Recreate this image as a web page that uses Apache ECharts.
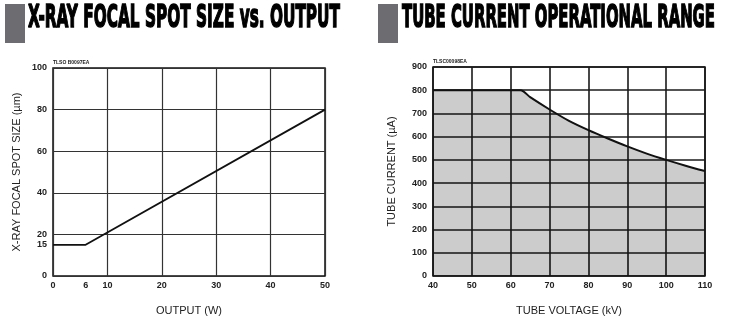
<!DOCTYPE html>
<html>
<head>
<meta charset="utf-8">
<script src="https://cdn.jsdelivr.net/npm/echarts@6/dist/echarts.min.js"></script>
<style>
html,body{margin:0;padding:0;background:#fff;}
#main{width:730px;height:325px;}
</style>
</head>
<body>
<div id="main"></div>
<script>
// left chart: focal spot size vs output
var spotOutput = [0, 6, 50];
var spotSize = [15, 15, 80];
var spotXTicks = [0, 6, 10, 20, 30, 40, 50];
var spotYTicks = [0, 15, 20, 40, 60, 80, 100];

// right chart: tube current operating range
var tubeVoltage = [40, 62.5, 65, 70, 75, 80, 85, 90, 95, 100, 105, 110];
var tubeCurrent = [800, 800, 770, 717, 668, 628, 592, 558, 527, 500, 475, 452];

var titleLeft = 'X-RAY FOCAL SPOT SIZE vs. OUTPUT';
var titleRight = 'TUBE CURRENT OPERATIONAL RANGE';

var chart = echarts.init(document.getElementById('main'));

var titleFont = 'bold 32px "DejaVu Sans Condensed", "Liberation Sans Narrow", "Liberation Sans", sans-serif';
var ctx = document.createElement('canvas').getContext('2d');
ctx.font = titleFont;
function fitScale(txt, w) {
    return w / ctx.measureText(txt).width;
}

var tickLabel = {color: '#222', fontSize: 9, fontWeight: 'bold', fontFamily: 'Liberation Sans'};
var nameStyle = {color: '#222', fontSize: 11, fontFamily: 'Liberation Sans'};

var option = {
    animation: false,
    backgroundColor: '#fff',
    grid: [
        {left: 53, top: 68, width: 272, height: 208, show: true, borderColor: '#111', borderWidth: 1.5, backgroundColor: 'transparent'},
        {left: 433, top: 67, width: 272, height: 209, show: true, borderColor: '#111', borderWidth: 1.5, backgroundColor: 'transparent'}
    ],
    xAxis: [{
        gridIndex: 0,
        type: 'value', min: 0, max: 50, interval: 10,
        name: 'OUTPUT (W)', nameLocation: 'middle', nameGap: 29, nameTextStyle: nameStyle,
        axisLine: {show: false},
        axisTick: {show: false},
        axisLabel: Object.assign({customValues: spotXTicks, margin: 5}, tickLabel),
        splitLine: {show: true, lineStyle: {color: '#333', width: 1.2}}
    }, {
        gridIndex: 1,
        type: 'value', min: 40, max: 110, interval: 10,
        name: 'TUBE VOLTAGE (kV)', nameLocation: 'middle', nameGap: 29, nameTextStyle: nameStyle,
        axisLine: {show: false},
        axisTick: {show: false},
        axisLabel: Object.assign({margin: 5}, tickLabel),
        splitLine: {show: true, lineStyle: {color: '#1a1a1a', width: 1.6}}
    }],
    yAxis: [{
        gridIndex: 0,
        type: 'value', min: 0, max: 100, interval: 20,
        name: 'X-RAY FOCAL SPOT SIZE (\u00b5m)', nameLocation: 'middle', nameGap: 31, nameTextStyle: nameStyle,
        axisLine: {show: false},
        axisTick: {show: false},
        axisLabel: Object.assign({customValues: spotYTicks, margin: 6}, tickLabel),
        splitLine: {show: true, lineStyle: {color: '#333', width: 1.2}}
    }, {
        gridIndex: 1,
        type: 'value', min: 0, max: 900, interval: 100,
        name: 'TUBE CURRENT (\u00b5A)', nameLocation: 'middle', nameGap: 36, nameTextStyle: nameStyle,
        axisLine: {show: false},
        axisTick: {show: false},
        axisLabel: Object.assign({margin: 6}, tickLabel),
        splitLine: {show: true, lineStyle: {color: '#1a1a1a', width: 1.6}}
    }],
    series: [{
        type: 'line',
        xAxisIndex: 0, yAxisIndex: 0,
        symbol: 'none',
        lineStyle: {color: '#111', width: 1.8},
        data: spotOutput.map(function (v, i) { return [v, spotSize[i]]; })
    }, {
        type: 'line',
        xAxisIndex: 1, yAxisIndex: 1,
        symbol: 'none',
        smooth: 0.3,
        lineStyle: {color: '#111', width: 2},
        areaStyle: {color: 'rgba(0,0,0,0.2)', opacity: 1, origin: 'start'},
        data: tubeVoltage.map(function (v, i) { return [v, tubeCurrent[i]]; })
    }],
    graphic: [
        {type: 'rect', shape: {x: 5, y: 4, width: 20, height: 39}, style: {fill: '#6d6d71'}},
        {type: 'rect', shape: {x: 378, y: 4, width: 20, height: 39}, style: {fill: '#6d6d71'}},
        {type: 'text', x: 28, y: 3, scaleX: fitScale(titleLeft, 312),
            style: {text: titleLeft, font: titleFont, fill: '#000', stroke: '#000', lineWidth: 1.5}},
        {type: 'text', x: 402, y: 3, scaleX: fitScale(titleRight, 313),
            style: {text: titleRight, font: titleFont, fill: '#000', stroke: '#000', lineWidth: 1.5}},
        {type: 'text', x: 53, y: 60, style: {text: 'TLSO B0097EA', font: 'bold 5px "Liberation Sans"', fill: '#222'}},
        {type: 'text', x: 433, y: 59, style: {text: 'TLSC00098EA', font: 'bold 5px "Liberation Sans"', fill: '#222'}}
    ]
};

chart.setOption(option);
</script>
</body>
</html>
